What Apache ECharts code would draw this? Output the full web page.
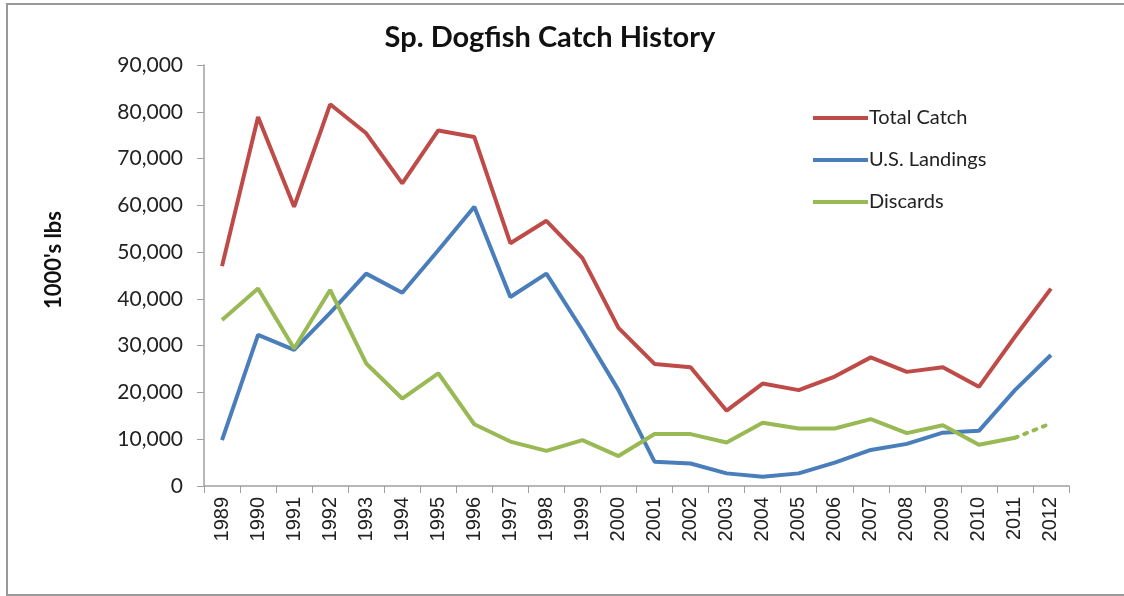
<!DOCTYPE html>
<html>
<head>
<meta charset="utf-8">
<script src="https://cdn.jsdelivr.net/npm/echarts@6/dist/echarts.min.js"></script>
<style>
  html, body { margin: 0; padding: 0; background: #fff; overflow: hidden; }
  #wrap { position: relative; width: 1124px; height: 596px; overflow: hidden; }
  #chart { position: absolute; left: 0; top: 0; width: 1124px; height: 596px; }
  #frame { position: absolute; left: 6px; top: 3px; width: 1200px; height: 589px;
           border-top: 2px solid #999; border-left: 2px solid #999; border-bottom: 2px solid #999; }
</style>
</head>
<body>
<div id="wrap">
  <div id="frame"></div>
  <div id="chart"></div>
</div>
<script>
var years = ['1989', '1990', '1991', '1992', '1993', '1994', '1995', '1996', '1997', '1998', '1999', '2000',
             '2001', '2002', '2003', '2004', '2005', '2006', '2007', '2008', '2009', '2010', '2011', '2012'];

var totalCatch = [47000, 78900, 59700, 81600, 75400, 64700, 76000, 74600, 51900, 56700, 48700, 33800,
                  26100, 25400, 16100, 21900, 20500, 23400, 27500, 24400, 25400, 21200, 31900, 42200];

var usLandings = [9800, 32300, 29100, 37000, 45400, 41300, 50400, 59700, 40400, 45400, 33300, 20500,
                  5200, 4800, 2700, 2000, 2700, 5000, 7700, 9000, 11400, 11800, 20500, 28000];

// 2012 discards is only an estimate, drawn dotted
var discards = [35500, 42200, 29400, 41900, 26200, 18700, 24100, 13200, 9500, 7500, 9800, 6400,
                11100, 11100, 9300, 13500, 12300, 12300, 14300, 11300, 13000, 8800, 10300, null];
var discardsEst = [null, null, null, null, null, null, null, null, null, null, null, null,
                   null, null, null, null, null, null, null, null, null, null, 10300, 13400];

var yTicks = { min: 0, max: 90000, interval: 10000 };

var RED = '#BE4B48', BLUE = '#4A7EBB', GREEN = '#98B954';
var FONT = 'Lato, "Open Sans", sans-serif';

var myChart = echarts.init(document.getElementById('chart'));

function lineSeries(name, data, color) {
    return {
        name: name,
        type: 'line',
        data: data,
        symbol: 'none',
        connectNulls: false,
        lineStyle: { color: color, width: 4 },
        itemStyle: { color: color },
        emphasis: { disabled: true }
    };
}

var option = {
    animation: false,
    title: {
        text: 'Sp. Dogfish Catch History',
        left: 545,
        top: 18,
        textAlign: 'center',
        textStyle: { fontFamily: FONT, fontSize: 29, fontWeight: 'bold', color: '#111' }
    },
    legend: {
        orient: 'vertical',
        left: 808,
        top: 102,
        itemWidth: 55,
        itemHeight: 4,
        itemGap: 20,
        icon: 'rect',
        data: ['Total Catch', 'U.S. Landings', 'Discards'],
        textStyle: { fontFamily: FONT, fontSize: 20, lineHeight: 22, color: '#222', padding: [0, 0, 0, -4] }
    },
    graphic: [
        {
            type: 'text',
            x: 54,
            y: 260,
            rotation: Math.PI / 2,
            style: {
                text: "1000's lbs",
                fontFamily: FONT,
                fontSize: 22,
                fontWeight: 'bold',
                fill: '#111',
                align: 'center',
                verticalAlign: 'middle'
            }
        }
    ],
    grid: {
        left: 204,
        right: 55,
        top: 65,
        bottom: 110,
        containLabel: false
    },
    xAxis: {
        type: 'category',
        data: years,
        boundaryGap: true,
        axisLine: { lineStyle: { color: '#A0A0A0', width: 1.5 } },
        axisTick: { show: true, alignWithLabel: false, length: 7, lineStyle: { color: '#A0A0A0' } },
        axisLabel: {
            rotate: 90,
            interval: 0,
            margin: 11,
            fontFamily: '"Liberation Sans", Arial, sans-serif',
            fontSize: 20,
            color: '#222'
        }
    },
    yAxis: {
        type: 'value',
        min: yTicks.min,
        max: yTicks.max,
        interval: yTicks.interval,
        axisLine: { show: true, lineStyle: { color: '#A0A0A0', width: 1.5 } },
        axisTick: { show: true, length: 7, lineStyle: { color: '#A0A0A0' } },
        splitLine: { show: false },
        axisLabel: {
            margin: 21,
            fontFamily: FONT,
            fontSize: 21,
            color: '#222',
            formatter: function (v) { return v.toLocaleString('en-US'); }
        }
    },
    series: [
        lineSeries('Total Catch', totalCatch, RED),
        lineSeries('U.S. Landings', usLandings, BLUE),
        lineSeries('Discards', discards, GREEN),
        {
            name: 'Discards est',
            type: 'line',
            data: discardsEst,
            symbol: 'none',
            lineStyle: { color: GREEN, width: 4, type: [3, 7], cap: 'round' },
            emphasis: { disabled: true }
        }
    ]
};

myChart.setOption(option);
</script>
</body>
</html>
